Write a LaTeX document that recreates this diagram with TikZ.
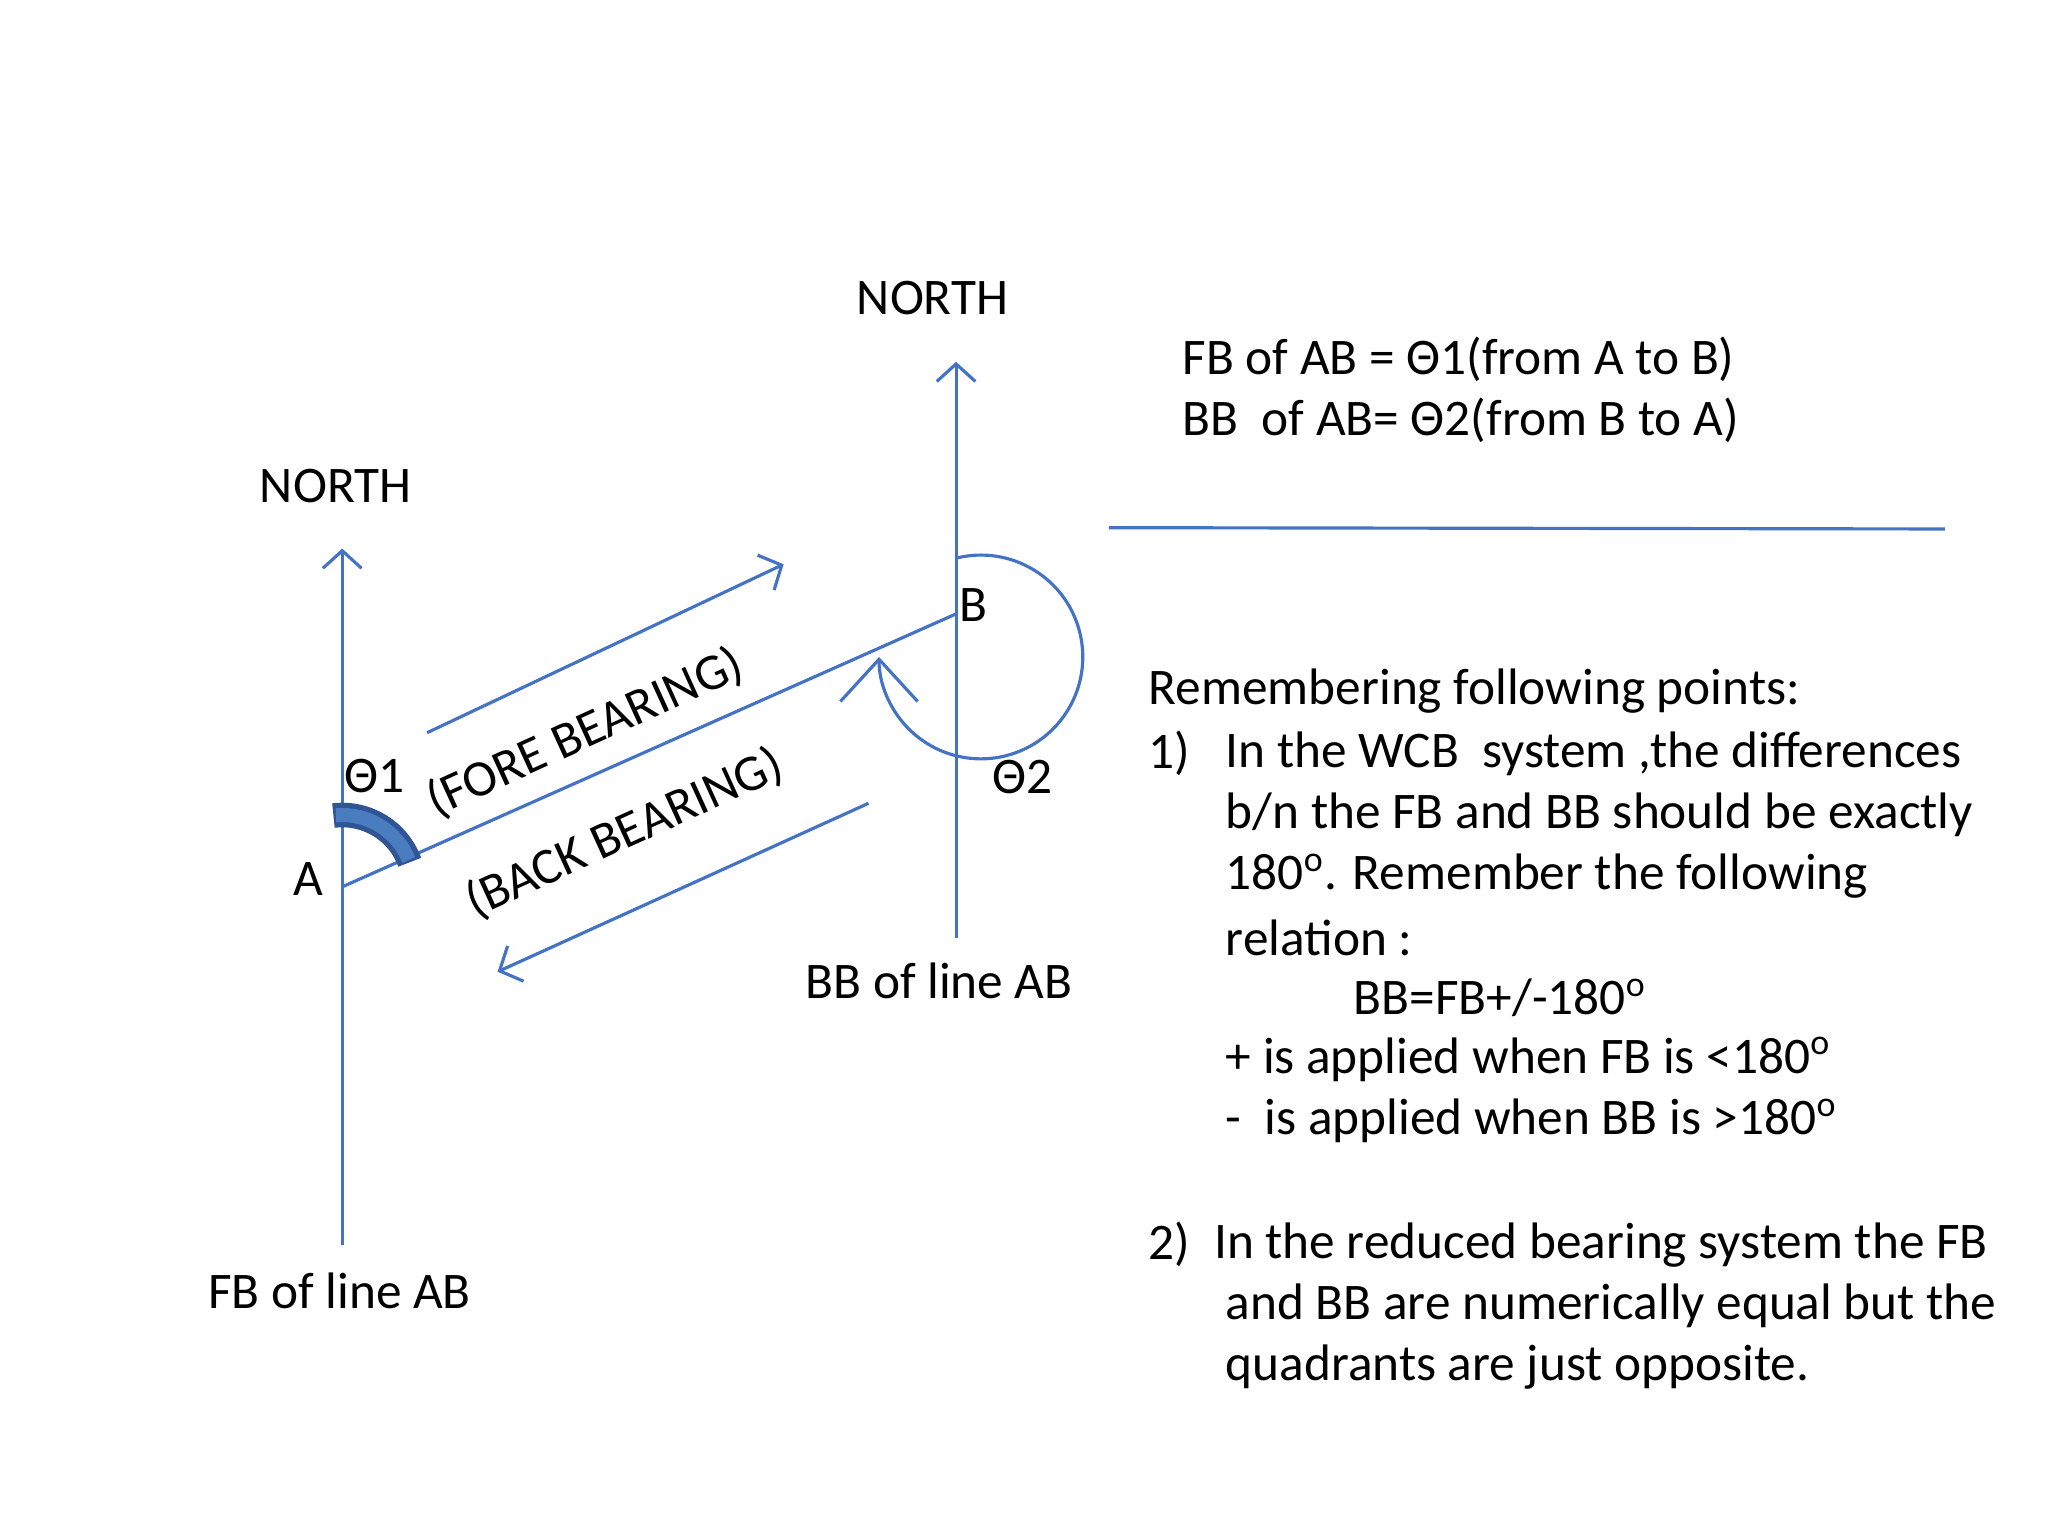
\documentclass[tikz,border=0pt]{standalone}
\usepackage{fontspec}
\setmainfont{Carlito}
\usetikzlibrary{arrows.meta}
\definecolor{ln}{HTML}{4472C4}
\definecolor{arcd}{HTML}{2F5597}
\definecolor{arcl}{HTML}{4A7CC0}
\begin{document}
\begin{tikzpicture}[x=0.013061cm,y=-0.013061cm,
  ln/.style={draw=ln,line width=0.9pt},
  arr/.style={ln,-{Straight Barb[length=5pt,width=11pt]}},
  txt/.style={font=\fontsize{14.6}{16}\selectfont,inner sep=0pt},
  lt/.style={txt,anchor=west}]
\useasboundingbox (0,0) rectangle (1568,1176);
% points
\coordinate (A) at (262,679);
\coordinate (B) at (732,470);
\coordinate (Abot) at (262,953);
\coordinate (Atop) at (262,420);
\coordinate (Bbot) at (732,718);
\coordinate (Btop) at (732,277);
\draw[arr] (Abot) -- (Atop);
\draw[arr] (Bbot) -- (Btop);
\draw[ln] (A) -- (B);
\coordinate (f1) at (327,561); \coordinate (f2) at (600,432);
\coordinate (b1) at (665,615); \coordinate (b2) at (381,744);
\draw[arr] (f1) -- (f2);
\draw[arr] (b1) -- (b2);
% theta1 arc
\coordinate (C) at (751,503);
\draw[arcd,line width=7pt] ([shift={(-97:55)}]A) arc[start angle=-97,end angle=-20,radius=55];
\draw[arcl,line width=4pt] ([shift={(-95:55)}]A) arc[start angle=-95,end angle=-22,radius=55];
% theta2 arc
\draw[ln,-{Straight Barb[length=12pt,width=22pt]}] ([shift={(-104:78)}]C) arc[start angle=-104,end angle=180,radius=78];
% labels
\node[txt] (n1) at (257,372) {NORTH};
\node[txt] (n2) at (714,228) {NORTH};
\node[txt] (fbl) at (260,988) {FB of line AB};
\node[txt] (bbl) at (719,751) {BB of line AB};
\node[txt] (la) at (236,673) {A};
\node[txt] (lb) at (745,463) {B};
\node[txt] (t1) at (287,594) {Θ1};
\node[txt] (t2) at (783,595) {Θ2};
\node[txt,rotate=24.5] (fore) at (448,561) {(FORE BEARING)};
\node[txt,rotate=24.5] (back) at (478,638) {(BACK BEARING)};
% right
\node[lt] (r1) at (905,275) {FB of AB = Θ1(from A to B)};
\node[lt] (r2) at (905,322) {BB\ \ of AB= Θ2(from B to A)};
\coordinate (h1) at (849,404); \coordinate (h2) at (1489,405);
\draw[ln] (h1) -- (h2);
\node[lt] (p0) at (879,529) {Remembering following points:};
\node[lt] (p1) at (879,577) {1)};
\node[lt] (p1a) at (938,577) {In the WCB\ \ system ,the differences};
\node[lt] (p1b) at (938,624) {b/n the FB and BB should be exactly};
\node[lt] (p1c) at (938,671) {180\textsuperscript{o}. Remember the following};
\node[lt] (p1d) at (938,718) {relation :};
\node[lt] (p1e) at (1036,764) {BB=FB+/-180\textsuperscript{o}};
\node[lt] (p1f) at (938,811) {+ is applied when FB is <180\textsuperscript{o}};
\node[lt] (p1g) at (938,858) {-\ \ is applied when BB is >180\textsuperscript{o}};
\node[lt] (p2) at (879,953) {2)};
\node[lt] (p2a) at (929,953) {In the reduced bearing system the FB};
\node[lt] (p2b) at (938,1000) {and BB are numerically equal but the};
\node[lt] (p2c) at (938,1047) {quadrants are just opposite.};
\end{tikzpicture}
\end{document}
